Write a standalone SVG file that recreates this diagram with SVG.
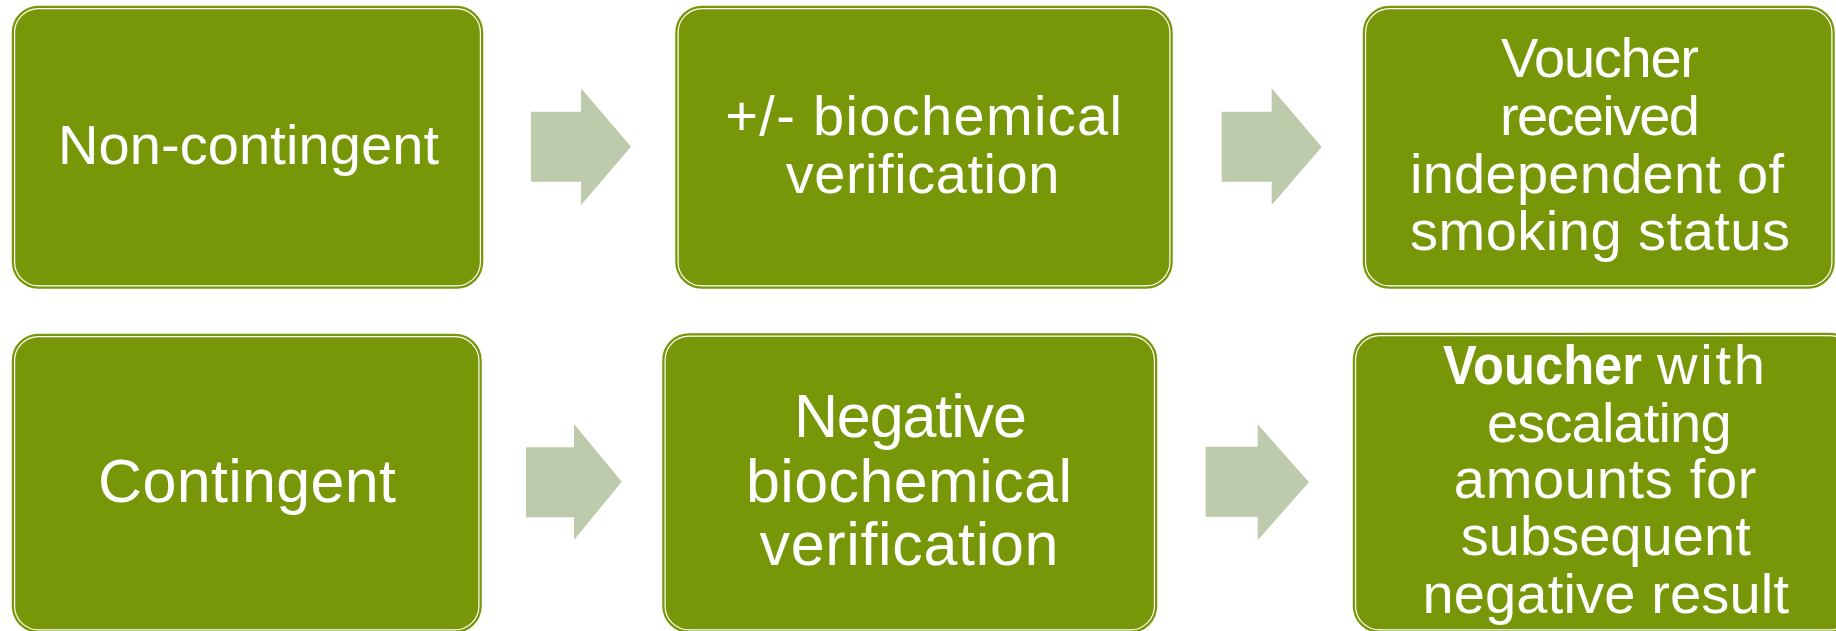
<svg xmlns="http://www.w3.org/2000/svg" width="1836" height="631" viewBox="0 0 1836 631">
  <style>
    .box { fill: #779708; stroke: #779708; stroke-width: 1.5; }
    .rim { fill: none; stroke: #ffffff; stroke-width: 1.2; }
    .arrow { fill: #bdcaac; }
    .lbl { fill: #ffffff; font-family: "Liberation Sans", Arial, sans-serif; text-anchor: middle; }
    .start { text-anchor: start; }
    .s56 { font-size: 56px; }
    .s61 { font-size: 61px; }
    .b { font-weight: bold; }
  </style>

  <rect width="1836" height="631" fill="#ffffff"/>

  <!-- block arrows between steps -->
  <g id="connectors">
    <polygon class="arrow" points="531,111.7 581,111.7 581,88.3 631,146.7 581,205 581,181.7 531,181.7"/>
    <polygon class="arrow" points="1221.7,111.7 1271.7,111.7 1271.7,88.3 1321.7,147 1271.7,205 1271.7,181.7 1221.7,181.7"/>
    <polygon class="arrow" points="526,447.3 574,447.3 574,424 621.7,481.7 574,540 574,517.3 526,517.3"/>
    <polygon class="arrow" points="1205.7,446.7 1257.7,446.7 1257.7,424.3 1309,482.3 1257.7,540 1257.7,516.7 1205.7,516.7"/>
  </g>

  <!-- top row: non-contingent scheme -->
  <g id="non-contingent">
    <rect class="box" x="12.5" y="6.5" width="470" height="281.5" rx="26"/>
    <rect class="rim" x="14.6" y="8.6" width="465.8" height="277.3" rx="24"/>
    <text class="lbl s56" x="248.5" y="164" textLength="381">Non-contingent</text>
  </g>

  <g id="verification-optional">
    <rect class="box" x="676" y="6.5" width="496" height="281.5" rx="26"/>
    <rect class="rim" x="678.1" y="8.6" width="491.8" height="277.3" rx="24"/>
    <text class="lbl s56" x="923.6" y="135" textLength="396.5">+/- biochemical</text>
    <text class="lbl s56" x="922.5" y="192.7" textLength="273.7">verification</text>
  </g>

  <g id="voucher-independent">
    <rect class="box" x="1363.5" y="6.5" width="470.5" height="281.5" rx="26"/>
    <rect class="rim" x="1365.6" y="8.6" width="466.3" height="277.3" rx="24"/>
    <text class="lbl s56" x="1600" y="77" textLength="198">Voucher</text>
    <text class="lbl s56" x="1600" y="135" textLength="200">received</text>
    <text class="lbl s56" x="1597" y="192.7" textLength="374">independent of</text>
    <text class="lbl s56" x="1600" y="250" textLength="380">smoking status</text>
  </g>

  <!-- bottom row: contingent scheme -->
  <g id="contingent">
    <rect class="box" x="12.5" y="334.5" width="468.5" height="297.5" rx="26"/>
    <rect class="rim" x="14.6" y="336.6" width="464.3" height="293.3" rx="24"/>
    <text class="lbl s61" x="247" y="501.5" textLength="298">Contingent</text>
  </g>

  <g id="verification-negative">
    <rect class="box" x="663" y="334" width="493.5" height="298" rx="26"/>
    <rect class="rim" x="665.1" y="336.1" width="489.3" height="293.8" rx="24"/>
    <text class="lbl s61" x="910.4" y="437.3" textLength="233">Negative</text>
    <text class="lbl s61" x="909" y="501.7" textLength="326">biochemical</text>
    <text class="lbl s61" x="909" y="565" textLength="299">verification</text>
  </g>

  <g id="voucher-escalating">
    <rect class="box" x="1353.5" y="333.5" width="502" height="298.5" rx="26"/>
    <rect class="rim" x="1355.6" y="335.6" width="497.8" height="294.3" rx="24"/>
    <text class="lbl start s56" y="384"><tspan class="b" x="1443" textLength="199" lengthAdjust="spacingAndGlyphs">Voucher</tspan> <tspan x="1657" textLength="108">with</tspan></text>
    <text class="lbl s56" x="1609.3" y="441.7" textLength="244.5">escalating</text>
    <text class="lbl s56" x="1605.1" y="498.3" textLength="302.6">amounts for</text>
    <text class="lbl s56" x="1605.7" y="555.3" textLength="290">subsequent</text>
    <text class="lbl s56" x="1605.7" y="613.3" textLength="366.6">negative result</text>
  </g>
</svg>
